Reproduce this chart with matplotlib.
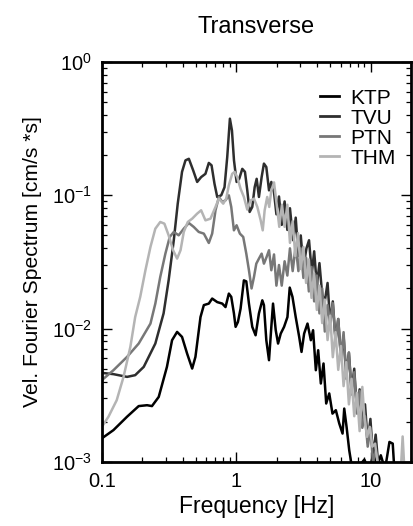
import matplotlib
matplotlib.use("Agg")
import matplotlib.pyplot as plt
from matplotlib.ticker import LogLocator, NullFormatter

plt.rcParams['font.family'] = ['Liberation Sans', 'DejaVu Sans']
plt.rcParams['mathtext.fontset'] = 'custom'
plt.rcParams['mathtext.rm'] = 'Liberation Sans'
plt.rcParams['mathtext.it'] = 'Liberation Sans:italic'
plt.rcParams['mathtext.bf'] = 'Liberation Sans:bold'

title = "Transverse"
xlabel = "Frequency [Hz]"
ylabel = "Vel. Fourier Spectrum [cm/s *s]"
station_names = ["KTP", "TVU", "PTN", "THM"]
xtick_values = [0.1, 1, 10]
xtick_labels = ["0.1", "1", "10"]

ktp_f = [0.100, 0.122, 0.154, 0.188, 0.217, 0.236, 0.265, 0.305, 0.333, 0.363, 0.395, 0.431, 0.470, 0.497,
         0.542, 0.574, 0.625, 0.662, 0.722, 0.787, 0.832, 0.881, 0.918, 0.961, 0.989, 1.029, 1.077, 1.140,
         1.188, 1.243, 1.316, 1.393, 1.475, 1.563, 1.607, 1.674, 1.753, 1.824, 1.878, 1.967, 2.047, 2.143,
         2.269, 2.404, 2.50, 2.62, 2.77, 2.94, 3.06, 3.20, 3.39, 3.59, 3.73, 3.91, 4.07, 4.26, 4.46, 4.67,
         4.92, 5.20, 5.51, 5.84, 6.18, 6.36, 6.62, 6.93, 7.21, 8.0, 8.98, 9.78, 10.6, 11.1, 11.9, 12.8,
         13.8, 14.6, 15.0, 16.8, 20.0]
ktp_v = [0.00150, 0.00173, 0.00218, 0.00262, 0.00266, 0.00262, 0.00307, 0.00516, 0.00818, 0.00944, 0.00866,
         0.00649, 0.00501, 0.00613, 0.0122, 0.0150, 0.0154, 0.0168, 0.0158, 0.0154, 0.0145, 0.0183, 0.0173,
         0.0130, 0.0103, 0.0112, 0.0141, 0.0230, 0.0226, 0.0154, 0.0103, 0.00891, 0.0130, 0.0163, 0.0150,
         0.00818, 0.00579, 0.0103, 0.0154, 0.00972, 0.00772, 0.00917, 0.0103, 0.0122, 0.0203, 0.0173, 0.0122,
         0.00866, 0.00668, 0.00917, 0.0109, 0.00818, 0.00972, 0.00487, 0.00688, 0.00387, 0.00547, 0.00274,
         0.00326, 0.00230, 0.00244, 0.00194, 0.00163, 0.00251, 0.00183, 0.00122, 0.00095, 0.0009, 0.00104,
         0.00085, 0.00122, 0.0009, 0.00112, 0.00088, 0.00141, 0.00137, 0.00088, 0.0008, 0.0008]

tvu_f = [0.100, 0.122, 0.154, 0.177, 0.205, 0.250, 0.288, 0.314, 0.343, 0.367, 0.395, 0.419, 0.444, 0.478,
         0.512, 0.548, 0.590, 0.625, 0.655, 0.689, 0.722, 0.773, 0.818, 0.857, 0.897, 0.929, 0.962, 1.006,
         1.052, 1.109, 1.161, 1.208, 1.258, 1.316, 1.371, 1.419, 1.475, 1.545, 1.607, 1.674, 1.753, 1.824,
         1.910, 1.99, 2.08, 2.18, 2.29, 2.40, 2.51, 2.65, 2.77, 2.90, 3.02, 3.16, 3.33, 3.48, 3.65, 3.80,
         3.98, 4.16, 4.36, 4.56, 4.78, 5.00, 5.23, 5.48, 5.74, 6.01, 6.29, 6.58, 6.89, 7.21, 7.55, 7.91,
         8.28, 8.67, 9.08, 9.51, 9.96, 10.4, 10.9, 11.4, 12.6, 20.0]
tvu_v = [0.00465, 0.00455, 0.00434, 0.00447, 0.00516, 0.00772, 0.0130, 0.0230, 0.0460, 0.0866, 0.150, 0.183,
         0.188, 0.154, 0.126, 0.137, 0.145, 0.175, 0.168, 0.122, 0.0972, 0.100, 0.115, 0.194, 0.376, 0.307,
         0.183, 0.126, 0.133, 0.158, 0.150, 0.109, 0.0750, 0.0818, 0.115, 0.133, 0.0972, 0.137, 0.173, 0.163,
         0.109, 0.126, 0.105, 0.072, 0.098, 0.060, 0.090, 0.055, 0.080, 0.046, 0.068, 0.035, 0.050, 0.029,
         0.040, 0.046, 0.026, 0.038, 0.021, 0.031, 0.018, 0.016, 0.022, 0.011, 0.016, 0.0082, 0.0118, 0.0060,
         0.0088, 0.0045, 0.0066, 0.0034, 0.0050, 0.0024, 0.0035, 0.0019, 0.0027, 0.0014, 0.0021, 0.0011,
         0.0016, 0.00095, 0.0009, 0.0008]

ptn_f = [0.100, 0.122, 0.154, 0.188, 0.230, 0.250, 0.272, 0.297, 0.320, 0.343, 0.373, 0.407, 0.444, 0.483,
         0.526, 0.574, 0.625, 0.662, 0.701, 0.743, 0.787, 0.832, 0.881, 0.918, 0.961, 1.006, 1.064, 1.127,
         1.188, 1.243, 1.30, 1.355, 1.41, 1.475, 1.545, 1.607, 1.683, 1.753, 1.824, 1.910, 1.99, 2.08, 2.18,
         2.29, 2.40, 2.51, 2.63, 2.77, 2.90, 3.02, 3.16, 3.31, 3.47, 3.63, 3.80, 3.98, 4.16, 4.36, 4.56,
         4.78, 5.00, 5.23, 5.48, 5.74, 6.01, 6.29, 6.58, 6.89, 7.21, 7.55, 7.91, 8.28, 8.67, 9.08, 9.51,
         9.96, 10.4, 10.9, 11.6, 20.0]
ptn_v = [0.00410, 0.00487, 0.00613, 0.00772, 0.0109, 0.0154, 0.0244, 0.0365, 0.0487, 0.0531, 0.0501, 0.0562,
         0.0620, 0.0579, 0.0531, 0.0516, 0.0439, 0.0516, 0.0772, 0.0972, 0.0891, 0.0917, 0.100, 0.0818,
         0.0546, 0.0596, 0.0516, 0.0487, 0.0365, 0.0274, 0.0200, 0.0244, 0.0307, 0.0335, 0.0365, 0.0307,
         0.0345, 0.0387, 0.0274, 0.036, 0.021, 0.030, 0.021, 0.032, 0.025, 0.040, 0.027, 0.042, 0.027,
         0.040, 0.024, 0.034, 0.019, 0.029, 0.016, 0.025, 0.013, 0.020, 0.0095, 0.015, 0.011, 0.0155,
         0.0080, 0.0118, 0.0060, 0.0094, 0.0042, 0.0066, 0.0032, 0.0047, 0.0023, 0.0034, 0.0018, 0.0022,
         0.0013, 0.0018, 0.0010, 0.0012, 0.0009, 0.0008]

thm_f = [0.100, 0.112, 0.129, 0.145, 0.163, 0.177, 0.193, 0.211, 0.230, 0.250, 0.272, 0.292, 0.314, 0.339,
         0.363, 0.385, 0.407, 0.436, 0.470, 0.512, 0.548, 0.590, 0.643, 0.701, 0.743, 0.800, 0.842, 0.881,
         0.933, 0.972, 1.017, 1.077, 1.140, 1.208, 1.279, 1.355, 1.435, 1.520, 1.574, 1.627, 1.70, 1.76,
         1.824, 1.910, 2.00, 2.09, 2.19, 2.29, 2.40, 2.51, 2.63, 2.75, 2.88, 3.02, 3.16, 3.31, 3.47, 3.63,
         3.80, 3.98, 4.16, 4.36, 4.56, 4.78, 5.00, 5.23, 5.48, 5.74, 6.01, 6.29, 6.58, 6.89, 7.21, 7.55,
         7.91, 8.28, 8.67, 8.98, 9.40, 9.85, 10.3, 10.8, 11.3, 12.3, 16.8, 17.3, 17.8, 20.0]
thm_v = [0.00183, 0.00218, 0.00290, 0.00434, 0.00729, 0.0122, 0.0173, 0.0274, 0.0410, 0.0562, 0.0631, 0.0613,
         0.0501, 0.0387, 0.0335, 0.0387, 0.0531, 0.0631, 0.0668, 0.0729, 0.0772, 0.0649, 0.0668, 0.0818,
         0.0944, 0.0866, 0.0944, 0.119, 0.145, 0.150, 0.137, 0.112, 0.0972, 0.0781, 0.0917, 0.0944, 0.0818,
         0.0649, 0.0546, 0.0772, 0.0972, 0.0818, 0.109, 0.125, 0.085, 0.058, 0.085, 0.058, 0.085, 0.044,
         0.064, 0.035, 0.052, 0.028, 0.041, 0.022, 0.033, 0.017, 0.026, 0.0138, 0.021, 0.011, 0.0165,
         0.0082, 0.0125, 0.0061, 0.0094, 0.0049, 0.0074, 0.0037, 0.0056, 0.0027, 0.0042, 0.0022, 0.0033,
         0.0017, 0.00365, 0.00218, 0.00154, 0.00183, 0.00130, 0.00137, 0.00095, 0.0009, 0.0009, 0.00155,
         0.0009, 0.0008]

series = [(ktp_f, ktp_v), (tvu_f, tvu_v), (ptn_f, ptn_v), (thm_f, thm_v)]
colors = ["#000000", "#2e2e2e", "#777777", "#b4b4b4"]

fig = plt.figure(figsize=(4.14, 5.26), dpi=100)
ax = fig.add_axes([0.246, 0.122, 0.747, 0.760])

for (f, v), name, c in zip(series, station_names, colors):
    ax.plot(f, v, color=c, lw=1.8, label=name, solid_joinstyle='round')

ax.set_xscale('log')
ax.set_yscale('log')
ax.set_xlim(0.1, 20)
ax.set_ylim(1e-3, 1)

ax.set_xticks(xtick_values)
ax.set_xticklabels(xtick_labels)
ax.xaxis.set_minor_locator(LogLocator(base=10, subs=range(2, 10)))
ax.xaxis.set_minor_formatter(NullFormatter())
ax.yaxis.set_major_locator(LogLocator(base=10, numticks=10))
ax.yaxis.set_minor_locator(LogLocator(base=10, subs=range(2, 10), numticks=10))
ax.yaxis.set_minor_formatter(NullFormatter())

ax.tick_params(which='both', direction='in', top=True, right=True, labelsize=14.5)
ax.tick_params(which='major', length=7, width=1.0, pad=7)
ax.tick_params(which='minor', length=3.6, width=0.9)
for s in ax.spines.values():
    s.set_linewidth(2.0)

ax.set_xlabel(xlabel, fontsize=16.5, labelpad=3)
ax.set_ylabel(ylabel, fontsize=15.2, labelpad=7)
ax.set_title(title, fontsize=17, pad=21)

leg = ax.legend(loc='upper right', bbox_to_anchor=(0.99, 0.965), frameon=False, fontsize=15,
                handlelength=0.9, handletextpad=0.55, labelspacing=0.05, borderaxespad=0.2)
for line in leg.get_lines():
    line.set_linewidth(2.0)

fig.savefig("out.png", dpi=100)
